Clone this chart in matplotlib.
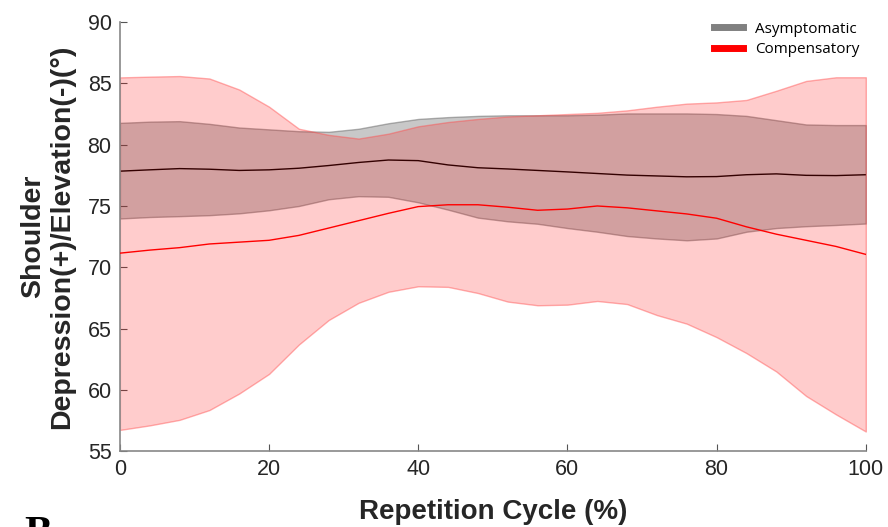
import numpy as np
import matplotlib
matplotlib.use("Agg")
import matplotlib.pyplot as plt
from matplotlib.lines import Line2D

plt.rcParams['font.family'] = ['Liberation Sans', 'DejaVu Sans']

# ---- data: % of repetition cycle and shoulder angle (deg) ----
cycle = [0, 4, 8, 12, 16, 20, 24, 28, 32, 36, 40, 44, 48, 52,
         56, 60, 64, 68, 72, 76, 80, 84, 88, 92, 96, 100]

asym_mean = [77.84, 77.95, 78.05, 78.00, 77.90, 77.95, 78.08, 78.30, 78.55,
             78.75, 78.70, 78.35, 78.12, 78.02, 77.90, 77.78, 77.65, 77.52,
             77.45, 77.38, 77.40, 77.55, 77.62, 77.50, 77.48, 77.55]
asym_upper = [81.78, 81.88, 81.92, 81.70, 81.40, 81.25, 81.10, 81.05, 81.30,
              81.75, 82.10, 82.25, 82.35, 82.40, 82.40, 82.40, 82.45, 82.55,
              82.55, 82.55, 82.50, 82.35, 82.00, 81.65, 81.60, 81.60]
asym_lower = [73.98, 74.10, 74.17, 74.25, 74.40, 74.65, 75.00, 75.55, 75.80,
              75.75, 75.30, 74.70, 74.05, 73.75, 73.55, 73.20, 72.90, 72.55,
              72.35, 72.20, 72.35, 72.90, 73.20, 73.35, 73.45, 73.57]

comp_mean = [71.15, 71.40, 71.60, 71.90, 72.05, 72.20, 72.60, 73.20, 73.80,
             74.40, 74.95, 75.10, 75.10, 74.90, 74.65, 74.75, 75.00, 74.85,
             74.60, 74.35, 74.00, 73.30, 72.70, 72.20, 71.70, 71.05]
comp_upper = [85.49, 85.55, 85.60, 85.40, 84.50, 83.10, 81.30, 80.80, 80.50,
              80.90, 81.50, 81.85, 82.10, 82.30, 82.40, 82.50, 82.60, 82.80,
              83.10, 83.35, 83.45, 83.65, 84.40, 85.20, 85.50, 85.50]
comp_lower = [56.73, 57.10, 57.55, 58.35, 59.70, 61.30, 63.70, 65.70, 67.10,
              68.00, 68.45, 68.40, 67.90, 67.20, 66.90, 66.95, 67.25, 67.00,
              66.10, 65.40, 64.30, 63.00, 61.50, 59.50, 58.00, 56.60]

fig = plt.figure(figsize=(8.88, 5.27), dpi=100)
ax = fig.add_axes([0.135, 0.144, 0.84, 0.814])

# asymptomatic band + mean (drawn under the red band)
ax.fill_between(cycle, asym_lower, asym_upper, facecolor=(0.5, 0.5, 0.5, 0.43),
                edgecolor=(0.4, 0.4, 0.4, 0.5), linewidth=1, zorder=1)
ax.plot(cycle, asym_mean, color='black', lw=1, zorder=1.5)

# compensatory band + mean
ax.fill_between(cycle, comp_lower, comp_upper, facecolor=(1, 0, 0, 0.2),
                edgecolor=(1, 0.3, 0.3, 0.45), linewidth=1, zorder=2)
ax.plot(cycle, comp_mean, color='red', lw=1, zorder=3)

ax.set_xlim(0, 100)
ax.set_ylim(55, 90)
ax.set_xticks(range(0, 101, 20))
ax.set_yticks(range(55, 91, 5))
for s in ['top', 'right']:
    ax.spines[s].set_visible(False)
for s in ['left', 'bottom']:
    ax.spines[s].set_color('#888888')
    ax.spines[s].set_linewidth(1.2)
ax.tick_params(direction='in', length=5, color='#555555', labelsize=15.5,
               labelcolor='#262626', pad=6)

ax.set_xlabel('Repetition Cycle (%)', fontsize=20, fontweight='bold',
              labelpad=13, color='#262626')
ax.set_ylabel('Shoulder\nDepression(+)/Elevation(-)(°)', fontsize=20.5,
              fontweight='bold', labelpad=9, linespacing=1.15, color='#262626')

handles = [Line2D([], [], color='#808080', lw=5),
           Line2D([], [], color='red', lw=5)]
ax.legend(handles, ['Asymptomatic', 'Compensatory'], loc='upper right',
          bbox_to_anchor=(1.0, 1.015), frameon=False,
          prop={'family': 'Open Sans', 'size': 11},
          handlelength=1.9, handletextpad=0.8, borderaxespad=0.0,
          labelspacing=0.35)

# panel letter, partly below the figure edge
fig.text(0.027, -0.034, 'B', fontsize=30, fontweight='bold',
         family=['Liberation Serif', 'DejaVu Serif'], va='baseline')

fig.savefig('out.png', dpi=100)
